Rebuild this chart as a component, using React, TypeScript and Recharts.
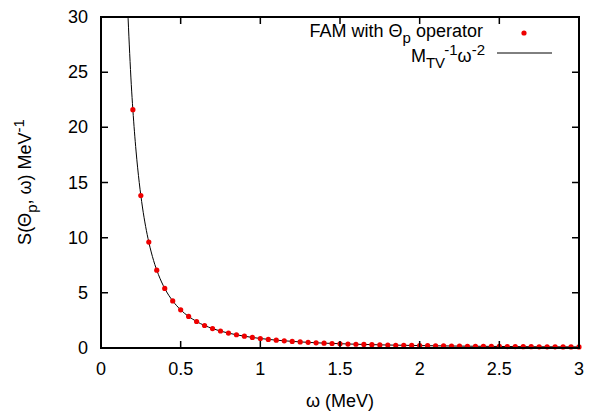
import {
  ComposedChart,
  Line,
  XAxis,
  YAxis,
} from "recharts";

// FAM points (omega in MeV, S in MeV^-1)
const dotW = [
  0.2, 0.25, 0.3, 0.35, 0.4, 0.45, 0.5, 0.55, 0.6, 0.65, 0.7, 0.75, 0.8, 0.85,
  0.9, 0.95, 1.0, 1.05, 1.1, 1.15, 1.2, 1.25, 1.3, 1.35, 1.4, 1.45, 1.5, 1.55,
  1.6, 1.65, 1.7, 1.75, 1.8, 1.85, 1.9, 1.95, 2.0, 2.05, 2.1, 2.15, 2.2, 2.25,
  2.3, 2.35, 2.4, 2.45, 2.5, 2.55, 2.6, 2.65, 2.7, 2.75, 2.8, 2.85, 2.9, 2.95,
  3.0,
];
const dotS = [
  21.6, 13.82, 9.6, 7.05, 5.4, 4.27, 3.46, 2.86, 2.4, 2.04, 1.76, 1.54, 1.35,
  1.2, 1.07, 0.96, 0.86, 0.78, 0.71, 0.65, 0.6, 0.55, 0.51, 0.47, 0.44, 0.41,
  0.38, 0.36, 0.34, 0.32, 0.3, 0.28, 0.27, 0.25, 0.24, 0.23, 0.22, 0.21, 0.2,
  0.19, 0.18, 0.17, 0.16, 0.16, 0.15, 0.14, 0.14, 0.13, 0.13, 0.12, 0.12, 0.11,
  0.11, 0.11, 0.1, 0.1, 0.1,
];

// M_TV^-1 omega^-2 curve
const lineW = [
  0.17, 0.18, 0.19, 0.2, 0.22, 0.24, 0.26, 0.28, 0.3, 0.33, 0.36, 0.4, 0.45,
  0.5, 0.6, 0.7, 0.8, 0.9, 1.0, 1.2, 1.4, 1.6, 1.8, 2.0, 2.25, 2.5, 2.75, 3.0,
];
const lineS = [
  29.9, 26.7, 23.9, 21.6, 17.85, 15.0, 12.78, 11.02, 9.6, 7.93, 6.67, 5.4, 4.27,
  3.46, 2.4, 1.76, 1.35, 1.07, 0.86, 0.6, 0.44, 0.34, 0.27, 0.22, 0.17, 0.14,
  0.11, 0.1,
];

const xTicks = [0, 0.5, 1, 1.5, 2, 2.5, 3];
const yTicks = [0, 5, 10, 15, 20, 25, 30];

const dots = dotW.map((w, i) => ({ w, s: dotS[i] }));
const curve = lineW.map((w, i) => ({ w, s: lineS[i] }));

const FONT = "'Liberation Sans', Arial, sans-serif";
const TICK = 7;
const TOP = 17;
const BOTTOM = 348;
const LEFT = 101;
const RIGHT = 579;

const renderXTick = (p: any) => (
  <text x={p.x} y={BOTTOM + 27} textAnchor="middle" fontSize={18} fontFamily={FONT} fill="#000">
    {p.payload.value}
  </text>
);

const renderYTick = (p: any) => (
  <text x={LEFT - 13} y={p.y + 6} textAnchor="end" fontSize={18} fontFamily={FONT} fill="#000">
    {p.payload.value}
  </text>
);

// frame with inward mirrored ticks, legend and axis titles
const Frame = () => {
  const tx = (v: number) => LEFT + (v / 3) * (RIGHT - LEFT);
  const ty = (v: number) => BOTTOM - (v / 30) * (BOTTOM - TOP);
  return (
    <svg
      width={592}
      height={413}
      style={{ position: "absolute", left: 0, top: 0, pointerEvents: "none" }}
      fontFamily={FONT}
    >
      <rect
        x={LEFT}
        y={TOP}
        width={RIGHT - LEFT}
        height={BOTTOM - TOP}
        fill="none"
        stroke="#000"
        strokeWidth={2}
      />
      {xTicks.map((v) => (
        <path
          key={`x${v}`}
          d={`M${tx(v)},${BOTTOM}v${-TICK}M${tx(v)},${TOP}v${TICK}`}
          stroke="#000"
          strokeWidth={1.5}
        />
      ))}
      {yTicks.map((v) => (
        <path
          key={`y${v}`}
          d={`M${LEFT},${ty(v)}h${TICK}M${RIGHT},${ty(v)}h${-TICK}`}
          stroke="#000"
          strokeWidth={1.5}
        />
      ))}
      <text x={483} y={37} textAnchor="end" fontSize={18} fill="#000">
        FAM with Θ
        <tspan fontSize={15} dy={6}>p</tspan>
        <tspan dy={-6}> operator</tspan>
      </text>
      <circle cx={524} cy={33} r={2.6} fill="#ee0000" />
      <text x={485} y={62} textAnchor="end" fontSize={18} fill="#000">
        M
        <tspan fontSize={15} dy={6}>TV</tspan>
        <tspan fontSize={15} dy={-13}>-1</tspan>
        <tspan dy={7}>ω</tspan>
        <tspan fontSize={15} dy={-7}>-2</tspan>
      </text>
      <line x1={497} y1={53} x2={552} y2={53} stroke="#000" strokeWidth={1} />
      <text x={340} y={407} textAnchor="middle" fontSize={18} fill="#000">
        ω (MeV)
      </text>
      <text transform="translate(31,182) rotate(-90)" textAnchor="middle" fontSize={18} fill="#000">
        S(Θ
        <tspan fontSize={15} dy={6}>p</tspan>
        <tspan dy={-6}>, ω) MeV</tspan>
        <tspan fontSize={15} dy={-7}>-1</tspan>
      </text>
    </svg>
  );
};

export default function App() {
  return (
    <div style={{ position: "absolute", left: 0, top: 0, width: 592, height: 413, background: "#fff" }}>
      <ComposedChart
        width={592}
        height={413}
        margin={{ top: TOP, right: 592 - RIGHT, bottom: 35, left: 0 }}
      >
        <XAxis
          dataKey="w"
          type="number"
          domain={[0, 3]}
          ticks={xTicks}
          height={30}
          axisLine={false}
          tickLine={false}
          tick={renderXTick}
        />
        <YAxis
          type="number"
          domain={[0, 30]}
          ticks={yTicks}
          width={LEFT}
          axisLine={false}
          tickLine={false}
          tick={renderYTick}
        />
        <Line
          data={curve}
          dataKey="s"
          type="monotone"
          stroke="#000"
          strokeWidth={1}
          dot={false}
          isAnimationActive={false}
        />
        <Line
          data={dots}
          dataKey="s"
          stroke="none"
          dot={{ r: 2.6, fill: "#ee0000", stroke: "none" }}
          isAnimationActive={false}
        />
      </ComposedChart>
      <Frame />
    </div>
  );
}
